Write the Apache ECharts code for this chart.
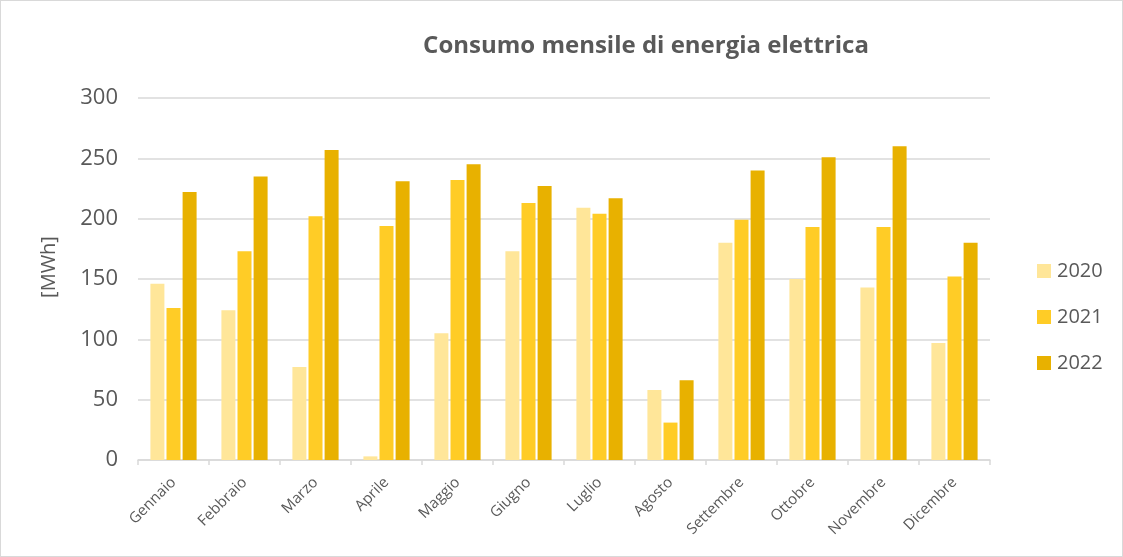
<!DOCTYPE html>
<html>
<head>
<meta charset="utf-8">
<script src="https://cdn.jsdelivr.net/npm/echarts@6/dist/echarts.min.js"></script>
<style>
  html, body { margin: 0; padding: 0; background: #fff; }
  #chart { width: 1123px; height: 557px; box-sizing: border-box; border: 1px solid #d9d9d9; }
</style>
</head>
<body>
<div id="chart"></div>
<script>
const months = ["Gennaio", "Febbraio", "Marzo", "Aprile", "Maggio", "Giugno", "Luglio", "Agosto", "Settembre", "Ottobre", "Novembre", "Dicembre"];
const values2020 = [146, 124, 77, 3, 105, 173, 209, 58, 180, 150, 143, 97];
const values2021 = [126, 173, 202, 194, 232, 213, 204, 31, 199, 193, 193, 152];
const values2022 = [222, 235, 257, 231, 245, 227, 217, 66, 240, 251, 260, 180];
const yearNames = ["2020", "2021", "2022"];
const yearColors = ["#ffe699", "#ffcc26", "#e8b100"];

const font = "'Open Sans', sans-serif";
const textColor = "#595959";

const chart = echarts.init(document.getElementById("chart"), null, { renderer: "canvas" });

const seriesValues = [values2020, values2021, values2022];

chart.setOption({
  animation: false,
  title: {
    text: "Consumo mensile di energia elettrica",
    left: 640,
    top: 28,
    textAlign: "center",
    textStyle: { fontFamily: font, fontSize: 24, fontWeight: "bold", color: textColor }
  },
  // y axis name sits a bit above the plot centre, like in the original
  graphic: [{
    type: "text",
    x: 48,
    y: 266,
    rotation: Math.PI / 2,
    style: {
      text: "[MWh]",
      fontFamily: font,
      fontSize: 20,
      fill: textColor,
      textAlign: "center",
      textVerticalAlign: "middle"
    }
  }],
  grid: { left: 137, right: 132, top: 97, bottom: 96 },
  legend: {
    orient: "vertical",
    left: 1031,
    top: 255,
    itemWidth: 14,
    itemHeight: 14,
    itemGap: 26,
    icon: "rect",
    data: yearNames,
    textStyle: { fontFamily: font, fontSize: 20, color: textColor, padding: [0, 0, 0, 1] }
  },
  xAxis: {
    type: "category",
    data: months,
    axisLine: { lineStyle: { color: "#d9d9d9", width: 1.5 } },
    axisTick: { show: true, length: 5, lineStyle: { color: "#d9d9d9", width: 1.5 } },
    axisLabel: {
      rotate: 45,
      interval: 0,
      margin: 20,
      fontFamily: font,
      fontSize: 15,
      color: textColor
    }
  },
  yAxis: {
    type: "value",
    min: 0,
    max: 300,
    interval: 50,
    axisLine: { show: false },
    axisTick: { show: false },
    axisLabel: { fontFamily: font, fontSize: 22, color: textColor, margin: 20 },
    splitLine: { lineStyle: { color: "#d9d9d9", width: 1.5 } }
  },
  series: yearNames.map((name, i) => ({
    type: "bar",
    name,
    data: seriesValues[i],
    barWidth: 14,
    barGap: "15%",
    itemStyle: { color: yearColors[i] }
  }))
});
</script>
</body>
</html>
